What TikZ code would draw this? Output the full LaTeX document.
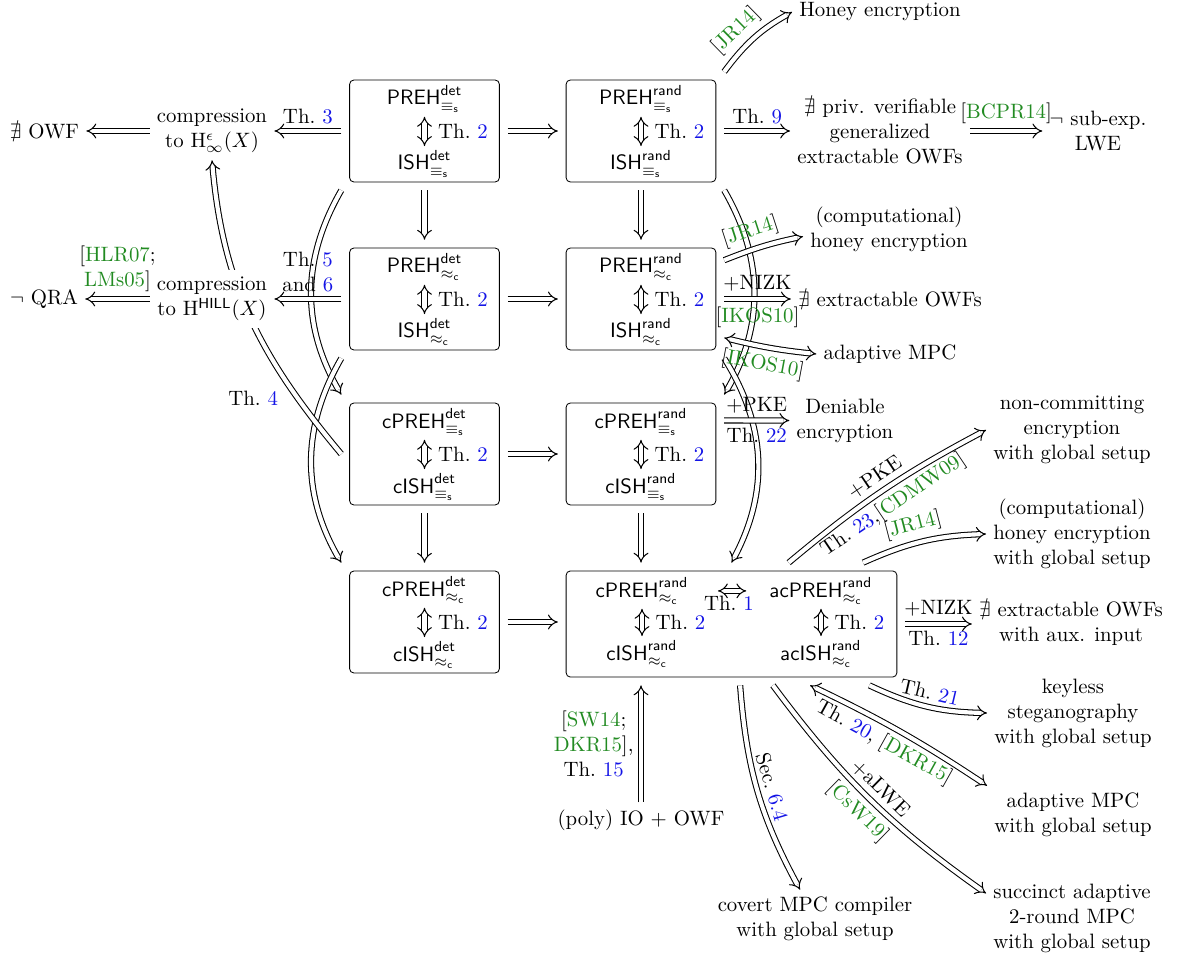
\documentclass[tikz,border=0pt]{standalone}
\usepackage{amsmath,amssymb}
\usetikzlibrary{arrows.meta}
\definecolor{refblue}{RGB}{20,20,230}
\definecolor{citegreen}{RGB}{34,139,34}
\newcommand{\thmref}[1]{Th.~\textcolor{refblue}{#1}}
\newcommand{\cg}[1]{\textcolor{citegreen}{#1}}
\newcommand{\cit}[1]{[\cg{#1}]}
\newcommand{\eqs}{\equiv_{\mathsf{s}}}
\newcommand{\apc}{\approx_{\mathsf{c}}}
\begin{document}
\begin{tikzpicture}[x=4.808pt,y=4.808pt,
  box/.style={draw,rounded corners=2pt,minimum width=72pt,minimum height=49pt,outer sep=4pt},
  inner/.style={inner sep=2pt,anchor=base},
  txt/.style={align=center},
  imp/.style={double,line width=0.5pt,double distance=2pt,-{Implies}},
  biimp/.style={double,line width=0.5pt,double distance=2pt,{Implies}-{Implies}}]
\useasboundingbox (0,0) rectangle (117.7,95.8);
% the seven small boxes
\foreach \b/\px/\py/\pre/\kind/\rel in {A1/42.45/82.7/{}/det/\eqs, B1/64.1/82.7/{}/rand/\eqs,
  A2/42.45/65.9/{}/det/\apc, B2/64.1/65.9/{}/rand/\apc, A3/42.45/50.4/c/det/\eqs,
  B3/64.1/50.4/c/rand/\eqs, A4/42.45/33.6/c/det/\apc}
{
  \node[box] (\b) at (\px,\py) {};
  \node[inner] (\b-top) at (\px,\py+2.6) {$\mathsf{\pre PREH}^{\mathsf{\kind}}_{\rel}$};
  \node[inner] (\b-bot) at (\px,\py-3.9) {$\mathsf{\pre ISH}^{\mathsf{\kind}}_{\rel}$};
  \draw[biimp] (\b-top) -- node[right=3pt] {\thmref{2}} (\b-bot);
}
% the big box
\node[box,minimum width=159pt,minimum height=51pt] (B4) at (73.15,33.4) {};
\node[inner] (B4-tl) at (64.2,36.1) {$\mathsf{cPREH}^{\mathsf{rand}}_{\apc}$};
\node[inner] (B4-tr) at (82.1,36.1) {$\mathsf{acPREH}^{\mathsf{rand}}_{\apc}$};
\node[inner] (B4-bl) at (64.2,29.8) {$\mathsf{cISH}^{\mathsf{rand}}_{\apc}$};
\node[inner] (B4-br) at (82.1,29.8) {$\mathsf{acISH}^{\mathsf{rand}}_{\apc}$};
\draw[biimp,shorten <=12pt,shorten >=9pt] (B4-tl) -- node[below=-1pt] {\thmref{1}} (B4-tr);
\draw[biimp] (B4-tl) -- node[right=3pt] {\thmref{2}} (B4-bl);
\draw[biimp] (B4-tr) -- node[right=3pt] {\thmref{2}} (B4-br);
% grid arrows
\draw[imp] (A1) -- (B1);
\draw[imp] (A2) -- (B2);
\draw[imp] (A3) -- (B3);
\draw[imp] (A4) -- (A4 -| B4.west);
\draw[imp] (A1) -- (A2);
\draw[imp] (B1) -- (B2);
\draw[imp] (A3) -- (A4);
\draw[imp] (B3) -- (B3 |- B4.north);
\draw[imp] (A1.south west) to[bend right=30] (A3.north west);
\draw[imp] (A2.south west) to[bend right=30] (A4.north west);
\draw[imp] (B1.south east) to[bend left=30] (B3.north east);
\draw[imp] (B2.south east) to[bend left=30] (B4.north);
% left side
\node[txt] (compE) at (21.2,82.7) {compression\\to $\mathrm{H}^{\epsilon}_{\infty}(X)$};
\node (owf) at (4.45,82.7) {$\nexists$ OWF};
\node (qra) at (4.4,65.9) {$\neg$ QRA};
\draw[imp] (A1) -- node[above] {\thmref{3}} (compE);
\draw[imp] (compE) -- (owf);
\draw[imp] (A3.west) to[out=130,in=-85] node[pos=0.2,left=6pt] {\thmref{4}} (compE.south);
\node[txt,fill=white] (compH) at (21.2,65.9) {compression\\to $\mathrm{H}^{\mathsf{HILL}}(X)$};
\draw[imp] (A2) -- node[above,align=center] {\thmref{5}\\and \textcolor{refblue}{6}} (compH);
\draw[imp] (compH) -- node[above,align=center] {[\cg{HLR07};\\\cg{LMs05}]} (qra);
% right side
\node (honey) at (88.0,94.6) {Honey encryption};
\node[txt] (pvowf) at (88.0,82.7) {$\nexists$ priv. verifiable\\generalized\\extractable OWFs};
\node[txt] (lwe) at (109.8,82.7) {$\neg$ sub-exp.\\LWE};
\node[txt] (chon) at (88.9,72.9) {(computational)\\honey encryption};
\node (nexowf) at (89.0,65.9) {$\nexists$ extractable OWFs};
\node (amp) at (89.0,60.4) {adaptive MPC};
\node[txt] (deniable) at (84.5,53.75) {Deniable\\encryption};
\draw[imp] (B1.north east) to[bend left=12] node[pos=0.4,sloped,above] {\cit{JR14}} (honey.west);
\draw[imp] (B1) -- node[above] {\thmref{9}} (pvowf);
\draw[imp] (pvowf) -- node[above] {\cit{BCPR14}} (lwe);
\draw[imp] (B2.25) to[bend left=5] node[pos=0.4,sloped,above] {\cit{JR14}} (chon.185);
\draw[imp] (B2) -- node[above] {+NIZK} node[below] {\cit{IKOS10}} (nexowf);
\draw[biimp] (B2.-25) to[bend right=4] node[pos=0.45,sloped,below] {\cit{IKOS10}} (amp.west);
\draw[imp] (B3.22) -- node[above] {+PKE} node[below] {\thmref{22}} (deniable.west);
% below right
\node[txt] (nce) at (107.2,52.8) {non-committing\\encryption\\with global setup};
\node[txt] (chon2) at (107.2,42.4) {(computational)\\honey encryption\\with global setup};
\node[txt] (nexowf2) at (107.1,33.4) {$\nexists$ extractable OWFs\\with aux. input};
\node[txt] (keyless) at (107.3,24.5) {keyless\\steganography\\with global setup};
\node[txt] (amp2) at (107.3,14.3) {adaptive MPC\\with global setup};
\node[txt] (succinct) at (107.2,4.0) {succinct adaptive\\2-round MPC\\with global setup};
\node[txt] (covert) at (81.5,3.9) {covert MPC compiler\\with global setup};
\node (io) at (64.1,13.8) {(poly) IO + OWF};
\draw[imp] (B4.47) to[bend left=6] node[sloped,above] {+PKE} node[sloped,below] {\thmref{23},\cit{CDMW09}} (nce.west);
\draw[imp] (B4.25) to[bend left=11] node[pos=0.45,sloped,above] {\cit{JR14}} (chon2.west);
\draw[imp] (B4) -- node[above] {+NIZK} node[below] {\thmref{12}} (nexowf2);
\draw[imp] (B4.-24) to[bend right=12] node[sloped,above] {\thmref{21}} (keyless.west);
\draw[biimp] (B4.-38) to[bend left=4] node[pos=0.45,sloped,below] {\thmref{20}, \cit{DKR15}} (amp2.north west);
\draw[imp] (B4.-56) to[bend right=9] node[pos=0.5,sloped,above] {+aLWE} node[pos=0.5,sloped,below] {\cit{CsW19}} (succinct.164);
\draw[imp] (B4.-82) to[bend right=12] node[sloped,above] {Sec.~\textcolor{refblue}{6.4}} (covert.117);
\draw[imp] (io) -- node[left,align=center] {[\cg{SW14};\\\cg{DKR15}],\\\thmref{15}} (io |- B4.south);
\end{tikzpicture}
\end{document}
